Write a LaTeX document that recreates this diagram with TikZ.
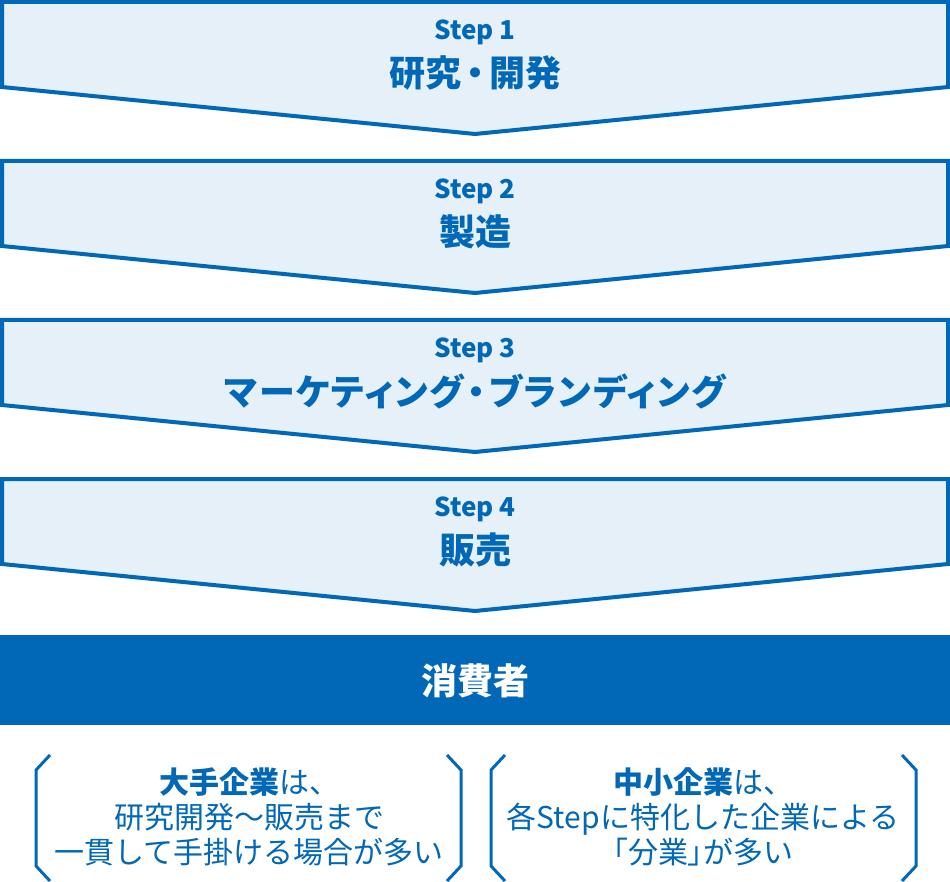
\documentclass[tikz,border=0pt]{standalone}
\usepackage{fontspec}
\setmainfont{Noto Sans CJK JP}
\newfontfamily\jppalt{Noto Sans CJK JP}[RawFeature=+palt]
\newfontfamily\jppaltsp{Noto Sans CJK JP}[RawFeature=+palt,LetterSpace=4.5]
\definecolor{cblue}{HTML}{0068B7}
\definecolor{clight}{HTML}{E5F0F9}
\begin{document}
\begin{tikzpicture}[x=1pt,y=-1pt,
  steparrow/.style={draw=cblue,fill=clight,line width=4pt,line join=miter},
  steplbl/.style={text=cblue,font=\bfseries\fontsize{26}{28}\selectfont,inner sep=0pt},
  steptitle/.style={text=cblue,font=\jppalt\bfseries\fontsize{36}{40}\selectfont,inner sep=0pt},
  bracketline/.style={draw=cblue,line width=3pt,line join=miter},
  note/.style={text=cblue,font=\fontsize{30}{35}\selectfont,align=center,inner sep=0pt}]
\useasboundingbox (0,0) rectangle (950,882);
\fill[white] (0,0) rectangle (950,882);
% step arrows
\foreach \o in {0,159,318,477}{
  \draw[steparrow] (2,2+\o) -- (948,2+\o) -- (948,87+\o) -- (475,134+\o) -- (2,87+\o) -- cycle;
}
\node[steplbl] (s1) at (475,32) {Step 1};
\node[steptitle] (t1) at (475,73) {研究\kern5pt・\kern5pt開発};
\node[steplbl] (s2) at (475,191) {Step 2};
\node[steptitle] (t2) at (475,232) {製造};
\node[steplbl] (s3) at (475,350) {Step 3};
\node[steptitle,font=\jppaltsp\bfseries\fontsize{36}{40}\selectfont] (t3) at (475,391) {マーケティング\kern4pt・\kern4ptブランディング};
\node[steplbl] (s4) at (475,509) {Step 4};
\node[steptitle] (t4) at (475,550) {販売};
% consumer bar
\fill[cblue] (0,635) rectangle (950,725);
\node[steptitle,text=white] (c) at (475,681) {消費者};
% brackets
\draw[bracketline] (50,755) -- (36,770) -- (36,866) -- (50,881);
\draw[bracketline] (447,755) -- (461,770) -- (461,866) -- (447,881);
\draw[bracketline] (505,755) -- (491,770) -- (491,866) -- (505,881);
\draw[bracketline] (902,755) -- (916,770) -- (916,866) -- (902,881);
\node[note] (n1) at (249,817) {{\bfseries 大手企業}は、\\研究開発～販売まで\\一貫して手掛ける場合が多い};
\node[note] (n2) at (703,817) {{\bfseries 中小企業}は、\\各Stepに特化した企業による\\{\jppalt 「分業」}が多い};
\end{tikzpicture}
\end{document}
